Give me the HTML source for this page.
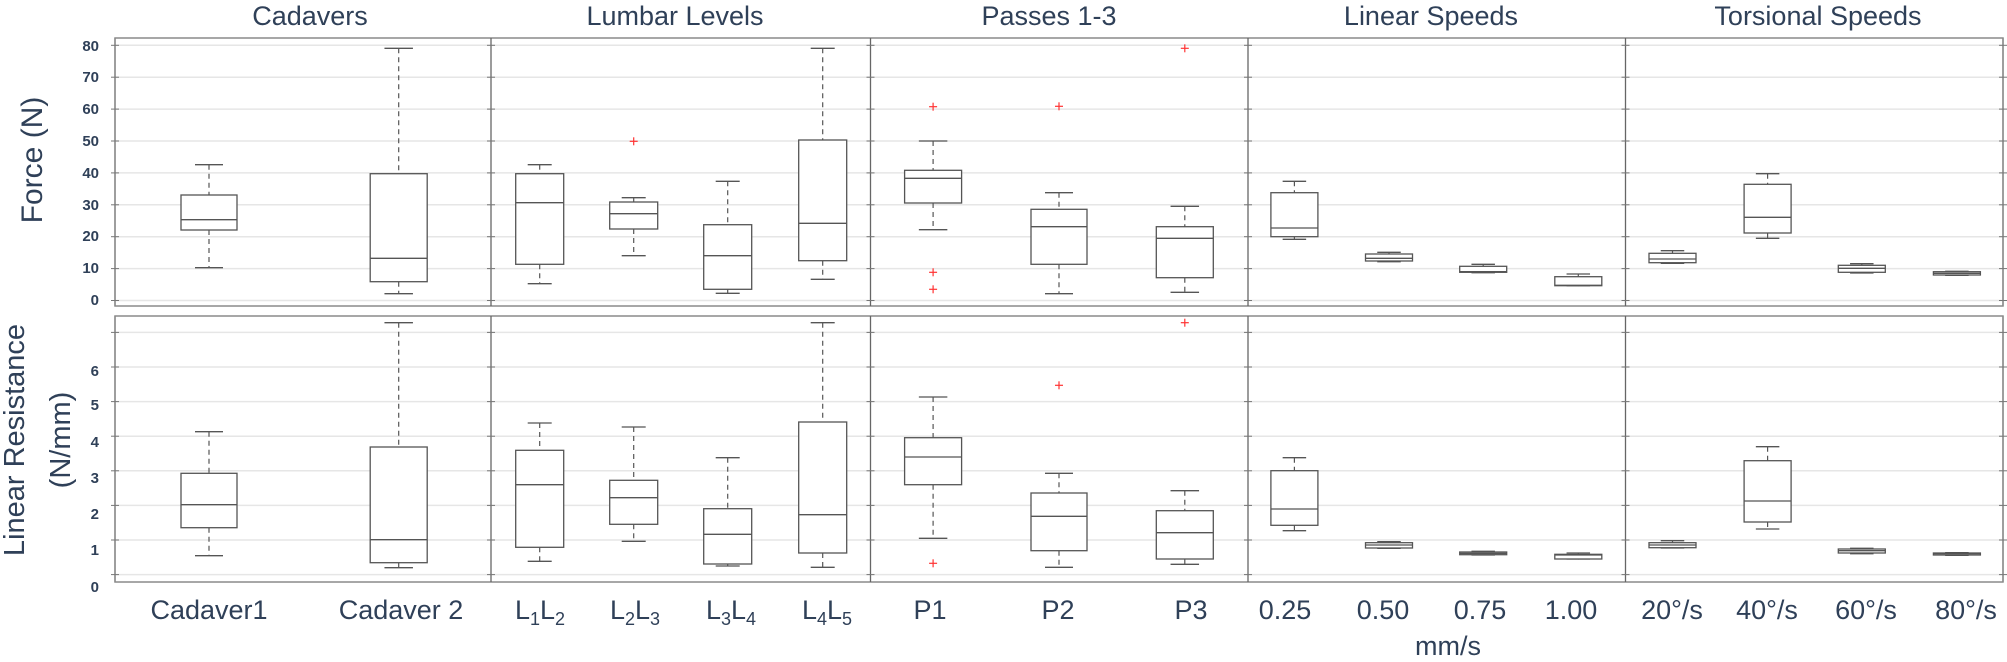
<!DOCTYPE html>
<html><head><meta charset="utf-8"><style>
html,body{margin:0;padding:0;background:#fff;width:2007px;height:662px;overflow:hidden}
svg{display:block}
.t{font-family:"Liberation Sans Narrow","Liberation Sans",sans-serif;fill:#2f4058}
.yl{font-family:"Liberation Sans",sans-serif;font-weight:bold;font-size:15px;fill:#2f4058}
</style></head><body>
<svg id="s" width="2007" height="662" xmlns="http://www.w3.org/2000/svg">
<g id="grid"></g>
<g id="boxes"></g>
<g class="t" font-size="27" text-anchor="middle">
<text x="310" y="25">Cadavers</text>
<text x="675" y="25">Lumbar Levels</text>
<text x="1049" y="25">Passes 1-3</text>
<text x="1431" y="25">Linear Speeds</text>
<text x="1818" y="25">Torsional Speeds</text>
<text x="209" y="619">Cadaver1</text>
<text x="401" y="619">Cadaver 2</text>
<text x="540" y="619">L<tspan font-size="18" dy="6">1</tspan><tspan dy="-6">L</tspan><tspan font-size="18" dy="6">2</tspan></text>
<text x="635" y="619">L<tspan font-size="18" dy="6">2</tspan><tspan dy="-6">L</tspan><tspan font-size="18" dy="6">3</tspan></text>
<text x="731" y="619">L<tspan font-size="18" dy="6">3</tspan><tspan dy="-6">L</tspan><tspan font-size="18" dy="6">4</tspan></text>
<text x="827" y="619">L<tspan font-size="18" dy="6">4</tspan><tspan dy="-6">L</tspan><tspan font-size="18" dy="6">5</tspan></text>
<text x="930" y="619">P1</text>
<text x="1058" y="619">P2</text>
<text x="1191" y="619">P3</text>
<text x="1285" y="619">0.25</text>
<text x="1383" y="619">0.50</text>
<text x="1480" y="619">0.75</text>
<text x="1571" y="619">1.00</text>
<text x="1672" y="619">20°/s</text>
<text x="1767" y="619">40°/s</text>
<text x="1866" y="619">60°/s</text>
<text x="1966" y="619">80°/s</text>
<text x="1448" y="655">mm/s</text>
<text transform="translate(42,160) rotate(-90)" font-size="30">Force (N)</text>
<text transform="translate(24,440) rotate(-90)" font-size="29">Linear Resistance</text>
<text transform="translate(70,440) rotate(-90)" font-size="29">(N/mm)</text>
</g>
<g class="yl" text-anchor="end">
<text x="99" y="51">80</text><text x="99" y="82">70</text><text x="99" y="114">60</text>
<text x="99" y="146">50</text><text x="99" y="178">40</text><text x="99" y="210">30</text>
<text x="99" y="241">20</text><text x="99" y="273">10</text><text x="99" y="305">0</text>
<text x="99" y="376">6</text><text x="99" y="410">5</text><text x="99" y="447">4</text>
<text x="99" y="483">3</text><text x="99" y="519">2</text><text x="99" y="555">1</text>
<text x="99" y="592">0</text>
</g>
</svg>
<script>
var NS="http://www.w3.org/2000/svg";
function el(p,n,a){var e=document.createElementNS(NS,n);for(var k in a)e.setAttribute(k,a[k]);p.appendChild(e);return e;}
var g=document.getElementById("grid"),b=document.getElementById("boxes");
var divs=[115,491,870.5,1248,1625.5,2003];
var tg=[];for(var i=0;i<=8;i++)tg.push(300.5-i*31.9);
var bg=[];for(var i=0;i<=7;i++)bg.push(574.6-i*34.6);
function panel(y0,y1,gl){
 gl.forEach(function(y){el(g,"line",{x1:115,x2:2003,y1:y,y2:y,stroke:"#e6e6e6","stroke-width":1.5});});
 el(g,"rect",{x:115,y:y0,width:1888,height:y1-y0,fill:"none",stroke:"#8a8a8a","stroke-width":1.5});
 divs.forEach(function(x,i){
  el(g,"line",{x1:x,x2:x,y1:y0,y2:y1,stroke:(i==0||i==5)?"#8a8a8a":"#666","stroke-width":1.3});
  gl.forEach(function(y){el(g,"line",{x1:x-4,x2:x+4,y1:y,y2:y,stroke:"#777","stroke-width":1});});
 });
}
panel(38,306,tg);panel(316,582,bg);
function box(cx,hw,ch,t,q3,m,q1,lo,out){
 var st="#555";
 el(b,"line",{x1:cx,x2:cx,y1:t,y2:q3,stroke:st,"stroke-width":1.2,"stroke-dasharray":"5,4"});
 el(b,"line",{x1:cx,x2:cx,y1:q1,y2:lo,stroke:st,"stroke-width":1.2,"stroke-dasharray":"5,4"});
 el(b,"line",{x1:cx-ch,x2:cx+ch,y1:t,y2:t,stroke:st,"stroke-width":1.3});
 el(b,"line",{x1:cx-ch,x2:cx+ch,y1:lo,y2:lo,stroke:st,"stroke-width":1.3});
 el(b,"rect",{x:cx-hw,y:q3,width:2*hw,height:Math.max(q1-q3,1),fill:"#fff",stroke:st,"stroke-width":1.3});
 el(b,"line",{x1:cx-hw,x2:cx+hw,y1:m,y2:m,stroke:st,"stroke-width":1.3});
 (out||[]).forEach(function(y){
  el(b,"line",{x1:cx-4,x2:cx+4,y1:y,y2:y,stroke:"#f33","stroke-width":1.2});
  el(b,"line",{x1:cx,x2:cx,y1:y-4,y2:y+4,stroke:"#f33","stroke-width":1.2});
 });
}
var X=[209,398.7,539.7,633.7,727.7,822.7,933.1,1059,1184.8,1294.4,1389,1483.2,1578.3,1672.5,1767.6,1861.8,1956.9];
var HW=[28,28.5,24,24,24,24,28.5,28,28.5,23.5,23.5,23.5,23.5,23.5,23.5,23.5,23.5];
var T=[
[164.7,195,219.7,230,267.7],
[48.3,173.7,258.3,281.7,293.7],
[164.7,173.7,202.7,264.3,283.7],
[197.7,202,213.7,229,255.7,[141.3]],
[181.3,224.7,255.7,289.3,293.3],
[48.3,140,223.3,260.7,279.3],
[141,170.3,178.3,203,229.7,[106.7,272.3,289.3]],
[192.7,209.3,226.7,264.3,293.7,[106.3]],
[206.3,226.7,238.3,277.7,292.3,[48.3]],
[181.3,192.7,228,236.7,239.3],
[252.3,254,258.3,261,261.7],
[264.3,266.3,271.7,272.3,272.7],
[274,276.7,285.3,285.7,285.7],
[250.7,253.3,259,262.7,263.3],
[173.7,184.3,217.3,233,238.3],
[263.7,265.3,268.3,272.3,273],
[271.3,271.7,273.3,275,275.3]];
var B=[
[431.7,473.3,504.7,527.7,555.7],
[322.7,447,539.7,562.7,567.7],
[423,450.3,484.7,547.3,561.3],
[427,480.3,497.7,524.3,541.3],
[457.7,508.7,534.3,564,566],
[322.7,422,514.7,553,567.3],
[397,437.7,457,484.7,538.3,[563.3]],
[473.3,493,516.3,550.7,567.3,[385.3]],
[490.7,510.7,532.7,559,564.3,[322.7]],
[457.7,470.7,509,525.3,530.7],
[541.7,542.7,545,548,548.3],
[551.3,552,553.3,554.7,555],
[553,554.3,555,559,559],
[540.7,542.7,545,547.7,548],
[446.7,460.7,501,522,529],
[548.3,549,550.7,553,553.7],
[552.7,553,553.7,555,555.3]];
for(var i=0;i<X.length;i++){
 var ch=HW[i]/2;
 var d=T[i];box(X[i],HW[i],ch,d[0],d[1],d[2],d[3],d[4],d[5]);
 d=B[i];box(X[i],HW[i],ch,d[0],d[1],d[2],d[3],d[4],d[5]);
}
</script>
</body></html>
